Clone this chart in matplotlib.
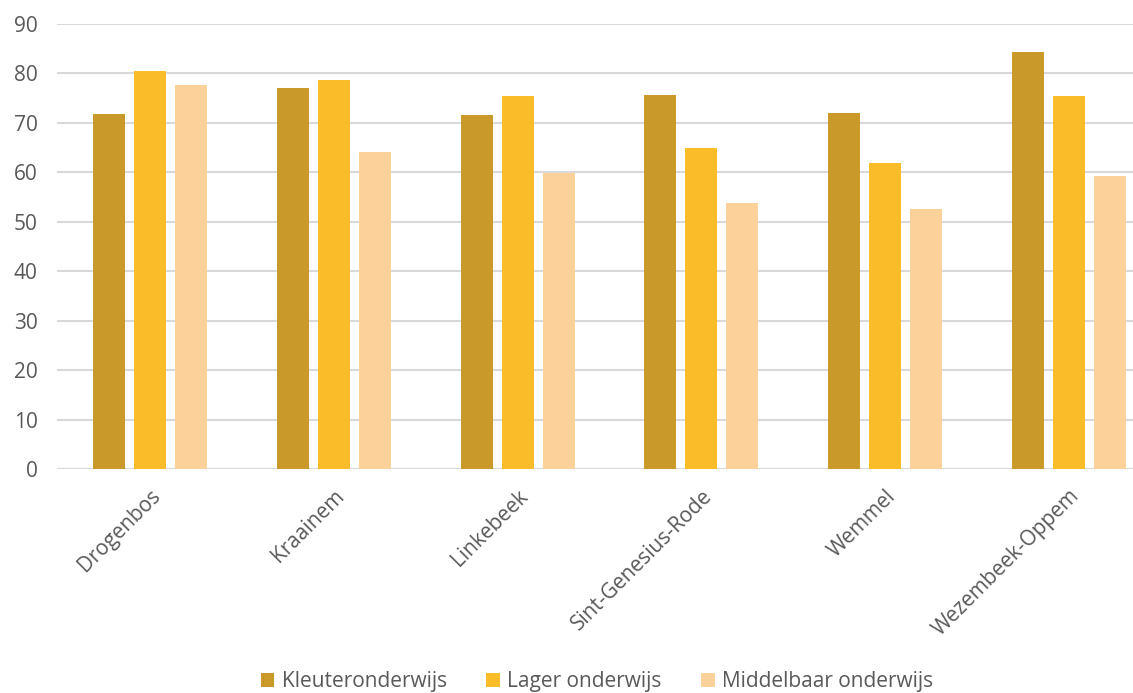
import numpy as np
import matplotlib
matplotlib.use("Agg")
import matplotlib.pyplot as plt

gemeenten = ["Drogenbos", "Kraainem", "Linkebeek", "Sint-Genesius-Rode",
             "Wemmel", "Wezembeek-Oppem"]
kleuter = [71.7, 77.1, 71.6, 75.6, 72.0, 84.3]
lager = [80.4, 78.6, 75.4, 64.9, 61.8, 75.4]
middelbaar = [77.6, 64.1, 59.9, 53.8, 52.6, 59.3]

series = [("Kleuteronderwijs", kleuter, "#C9992A"),
          ("Lager onderwijs", lager, "#FBBC2A"),
          ("Middelbaar onderwijs", middelbaar, "#FCD29A")]

plt.rcParams["font.family"] = ["Open Sans", "DejaVu Sans"]
grey = "#595959"

fig = plt.figure(figsize=(11.33, 6.93), dpi=100)
ax = fig.add_axes([57 / 1133, 1 - 469 / 693, 1 - 57 / 1133, (469 - 24) / 693])

x = np.arange(len(gemeenten))
w = 0.174
step = 0.223
for i, (naam, vals, kleur) in enumerate(series):
    ax.bar(x + (i - 1) * step, vals, w, color=kleur, label=naam, zorder=3)

ax.set_ylim(0, 90)
ax.set_yticks(range(0, 91, 10))
# category pitch ~184 px, axes runs past the last group
ax.set_xlim(-0.506, -0.506 + 1076 / 183.8)
ax.yaxis.grid(True, color="#D9D9D9", linewidth=1.5, zorder=0)
for s in ax.spines.values():
    s.set_visible(False)
ax.axhline(0, color="#D9D9D9", linewidth=1.5, zorder=2)
ax.tick_params(axis="both", length=0, labelsize=15, labelcolor=grey)
ax.tick_params(axis="y", pad=14)
ax.set_xticks(x)
ax.set_xticklabels(gemeenten, rotation=45, ha="right", rotation_mode="anchor")
ax.tick_params(axis="x", pad=12)

fig.legend(loc="lower center", bbox_to_anchor=(0.527, -0.026), ncol=3,
           frameon=False, fontsize=15, labelcolor=grey, handlelength=0.65,
           handleheight=0.65, columnspacing=1.9, handletextpad=0.35)

fig.savefig("out.png", dpi=100)
